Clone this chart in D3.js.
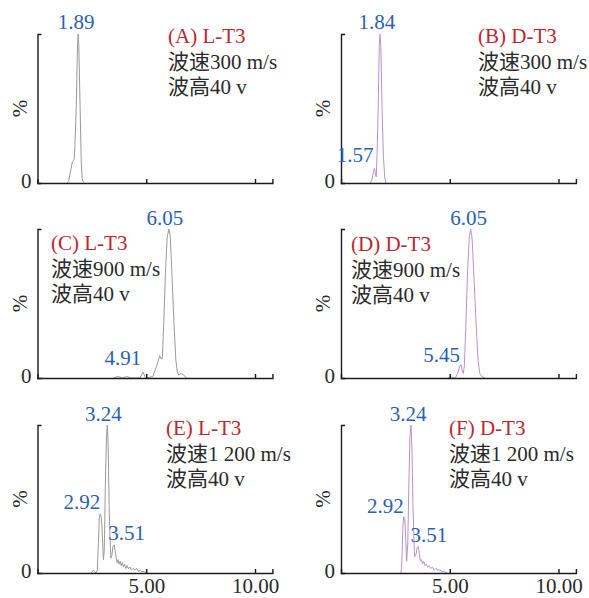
<!DOCTYPE html>
<html>
<head>
<meta charset="utf-8">
<script src="https://cdn.jsdelivr.net/npm/d3@7"></script>
<style>
  body { margin: 0; background: #fff; }
  svg text { font-family: "Liberation Serif", "Times New Roman", "Noto Sans CJK SC", serif; }
</style>
</head>
<body>
<svg id="chart" width="589" height="598"></svg>
<script>
// ---- data: [time (min), relative intensity (%)] ----
var panelTitles = ['(A) L-T3', '(B) D-T3', '(C) L-T3', '(D) D-T3', '(E) L-T3', '(F) D-T3'];
var waveSpeed = ['波速300 m/s', '波速300 m/s', '波速900 m/s', '波速900 m/s', '波速1 200 m/s', '波速1 200 m/s'];
var waveHeight = ['波高40 v', '波高40 v', '波高40 v', '波高40 v', '波高40 v', '波高40 v'];
var xTicks = [5, 10];

var traceA = [[1.35,0],[1.43,1],[1.52,8],[1.60,14],[1.69,16],[1.72,25],[1.78,50],[1.84,92],[1.87,100],
  [1.90,92],[1.96,50],[2.01,15],[2.05,3],[2.10,1],[2.17,0]];
var traceB = [[1.35,0],[1.42,2],[1.48,7],[1.54,10],[1.58,6],[1.62,4],[1.66,20],[1.71,50],[1.76,92],
  [1.79,100],[1.83,92],[1.89,50],[1.95,18],[2.01,4],[2.06,0]];
var traceC = [[3.5,0],[3.7,1],[3.9,0],[4.1,1],[4.3,0],[4.70,0],[4.78,2],[4.86,4],[4.93,1],[5.00,0],
  [5.30,1],[5.40,5],[5.48,8],[5.56,12],[5.62,15],[5.68,13],[5.74,13],[5.80,35],[5.88,70],[5.96,94],
  [6.04,100],[6.10,96],[6.18,70],[6.28,35],[6.36,12],[6.43,4],[6.50,2],[6.60,3],[6.72,2],[6.85,0]];
var traceD = [[4.9,0],[5.05,1],[5.15,0],[5.20,0],[5.30,1],[5.38,4],[5.46,8],[5.52,9],[5.57,5],[5.62,3],
  [5.67,8],[5.74,35],[5.82,72],[5.90,95],[5.96,100],[6.02,95],[6.10,72],[6.20,40],[6.30,12],[6.38,3],
  [6.48,1],[6.60,0]];
var traceE = [[2.45,0],[2.52,1],[2.57,2],[2.62,1],[2.68,0],[2.75,2],[2.80,20],[2.84,37],[2.88,40],
  [2.93,38],[2.97,30],[3.03,9],[3.07,15],[3.12,60],[3.17,92],[3.21,100],[3.25,85],[3.30,40],[3.37,10],
  [3.42,12],[3.47,18],[3.53,19],[3.57,15],[3.62,10],[3.66,7],[3.70,9],[3.75,6],[3.80,8],[3.85,5],
  [3.90,7],[3.95,4],[4.00,6],[4.06,3],[4.12,5],[4.18,3],[4.25,4],[4.32,2],[4.40,3],[4.48,2],[4.56,3],
  [4.64,1],[4.72,2],[4.80,1],[4.90,1],[5.00,0]];
var traceF = [[2.76,0],[2.80,8],[2.84,30],[2.88,38],[2.93,37],[2.97,25],[3.02,8],[3.07,20],[3.12,60],
  [3.17,92],[3.22,100],[3.26,85],[3.31,45],[3.38,11],[3.44,12],[3.50,17],[3.56,18],[3.60,13],[3.65,8],
  [3.70,9],[3.75,6],[3.80,8],[3.86,5],[3.92,6],[3.98,4],[4.05,5],[4.12,3],[4.20,4],[4.28,2],[4.36,3],
  [4.45,2],[4.55,2],[4.65,1],[4.75,1],[4.90,0]];

// peak annotations: [time, intensity, label]
var peaksA = [[1.87, 100, '1.89']];
var peaksB = [[1.79, 100, '1.84'], [1.54, 10, '1.57']];
var peaksC = [[6.04, 100, '6.05'], [4.86, 4, '4.91']];
var peaksD = [[5.96, 100, '6.05'], [5.52, 9, '5.45']];
var peaksE = [[3.21, 100, '3.24'], [2.88, 40, '2.92'], [3.53, 19, '3.51']];
var peaksF = [[3.22, 100, '3.24'], [2.88, 38, '2.92'], [3.56, 18, '3.51']];

var traces = [traceA, traceB, traceC, traceD, traceE, traceF];
var peaks = [peaksA, peaksB, peaksC, peaksD, peaksE, peaksF];

// ---- layout ----
var colX = [37.5, 341];             // x of time 0 (= y axis)
var rowY = [[34, 183], [229, 378], [425, 573]];  // [top, baseline]
var pxPerMin = 21.75, xMax = 10.8;
var lineColor = ['#9a9a9a', '#b893cc'];
var blue = '#2b5fb3', red = '#c0262e', ink = '#2a2a2a';
var fs = 21;
var infoPos = [[168, 43], [478, 43], [51, 250], [351, 251], [166, 435], [449, 435]];
// label placement per peak: [anchor, dx, dy]
var labelPlace = [
  [['middle', -2, -5]],
  [['middle', -3, -5], ['end', -1, -6]],
  [['middle', -4, -4], ['end', -2, -7]],
  [['middle', -2, -4], ['end', -1, -3]],
  [['middle', -4, -4], ['end', 0, -5], ['start', -6, -5]],
  [['middle', -3, -4], ['end', 0, -4], ['start', -8, -4]]
];

var svg = d3.select('#chart');

traces.forEach(function(trace, i) {
    var col = i % 2, row = Math.floor(i / 2),
        x0 = colX[col], top = rowY[row][0], base = rowY[row][1];

    var x = d3.scaleLinear().domain([0, xMax]).range([x0, x0 + xMax * pxPerMin]),
        y = d3.scaleLinear().domain([0, 100]).range([base, top]);

    var g = svg.append('g').attr('class', 'panel');

    // trace
    g.append('path')
        .datum(trace)
        .attr('fill', 'none')
        .attr('stroke', lineColor[col])
        .attr('stroke-width', 1)
        .attr('d', d3.line().x(function(d) { return x(d[0]); }).y(function(d) { return y(d[1]); }));

    // x axis (ticks point inward, labels only on the bottom row)
    var xAxis = d3.axisBottom(x).tickValues(xTicks)
        .tickSizeInner(-4).tickSizeOuter(-4).tickPadding(5)
        .tickFormat(row === 2 ? d3.format('.2f') : function() { return ''; });
    var gx = g.append('g').attr('transform', 'translate(0,' + base + ')').call(xAxis);

    // y axis with only the inward cap at the top
    var yAxis = d3.axisLeft(y).tickValues([]).tickSizeOuter(-4);
    var gy = g.append('g').attr('transform', 'translate(' + x0 + ',0)').call(yAxis);

    [gx, gy].forEach(function(a) {
        a.selectAll('path, line').attr('stroke', '#1a1a1a').attr('stroke-width', 1.4);
        a.selectAll('text').attr('fill', ink).attr('font-size', fs)
            .attr('font-family', '"Liberation Serif", "Times New Roman", serif');
    });

    g.append('text')
        .attr('x', x0 - 6).attr('y', base + 5)
        .attr('text-anchor', 'end')
        .attr('font-size', fs).attr('fill', ink)
        .text('0');

    g.append('text')
        .attr('transform', 'translate(' + (x0 - 11) + ',' + ((top + base) / 2) + ') rotate(-90)')
        .attr('text-anchor', 'middle')
        .attr('font-size', fs).attr('fill', ink)
        .text('%');

    // peak labels
    g.selectAll('.peak-label')
        .data(peaks[i])
        .enter().append('text')
        .attr('class', 'peak-label')
        .attr('x', function(d, j) { return x(d[0]) + labelPlace[i][j][1]; })
        .attr('y', function(d, j) { return y(d[1]) + labelPlace[i][j][2]; })
        .attr('text-anchor', function(d, j) { return labelPlace[i][j][0]; })
        .attr('font-size', fs).attr('fill', blue)
        .text(function(d) { return d[2]; });

    // condition text block
    var info = g.append('text').attr('font-size', fs)
        .attr('x', infoPos[i][0]).attr('y', infoPos[i][1]);
    info.append('tspan').attr('fill', red).text(panelTitles[i]);
    info.append('tspan').attr('x', infoPos[i][0]).attr('dy', 25.5).attr('fill', ink).text(waveSpeed[i]);
    info.append('tspan').attr('x', infoPos[i][0]).attr('dy', 25.5).attr('fill', ink).text(waveHeight[i]);
});
</script>
</body>
</html>
